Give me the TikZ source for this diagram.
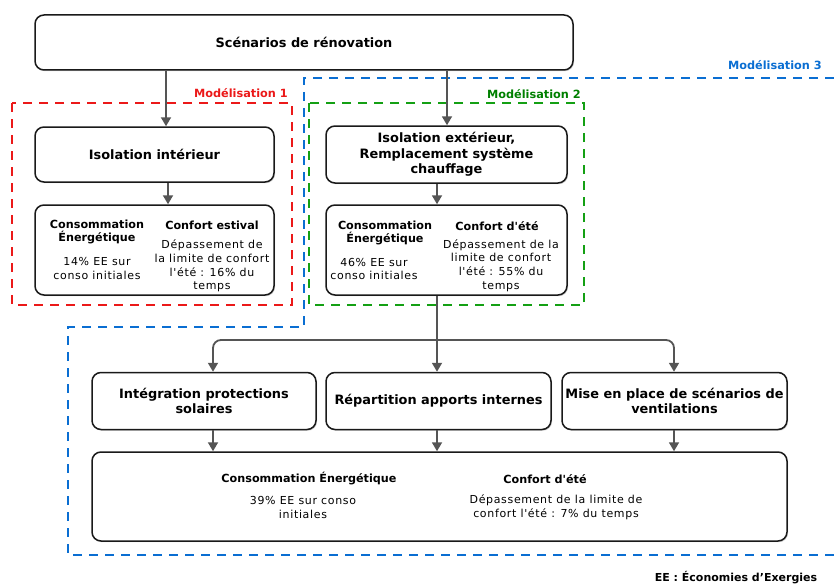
\documentclass[tikz,border=0pt]{standalone}
\usepackage{fontspec}
\setmainfont{DejaVu Sans}[Ligatures=TeXOff]
\newfontfamily\widefont{DejaVu Sans}[LetterSpace=6,Ligatures=TeXOff]
\usetikzlibrary{arrows.meta,shadows}
\definecolor{redf}{RGB}{235,25,25}
\definecolor{greenf}{RGB}{20,160,20}
\definecolor{greenl}{RGB}{0,128,0}
\definecolor{bluef}{RGB}{10,110,210}
\definecolor{arrowc}{RGB}{85,85,85}
\begin{document}
\begin{tikzpicture}[x=1pt,y=-1pt,
  box/.style={draw=black!90, line width=1.5pt, rounded corners=9pt, fill=white, inner sep=0pt, align=center,
    drop shadow={shadow xshift=1pt, shadow yshift=-1.2pt, opacity=0.35},
    font=\bfseries\fontsize{12.9}{15.5}\selectfont},
  arr/.style={draw=arrowc, line width=1.8pt, -{Triangle[length=9pt,width=10pt]}},
  frame/.style={line width=2.6pt, dash pattern=on 9pt off 7pt},
  lbl/.style={font=\bfseries\fontsize{11.3}{13}\selectfont, anchor=east, inner sep=0pt},
  hd/.style={font=\bfseries\fontsize{11.2}{13}\selectfont, align=center, inner sep=0pt},
  bd/.style={font=\widefont\fontsize{11}{13.6}\selectfont, align=center, inner sep=0pt},
  cbd/.style={font=\widefont\fontsize{11}{14}\selectfont, align=center, inner sep=0pt}
]
\useasboundingbox (0,0) rectangle (834,583);

% frames
\draw[frame, draw=redf] (12,103) rectangle (292,305);
\draw[frame, draw=greenf] (309,103) rectangle (584,305);
\draw[frame, draw=bluef] (834,78) -- (304,78) -- (304,327) -- (68,327) -- (68,555) -- (834,555);
\node[lbl, text=redf] (l1) at (288,93) {Modélisation 1};
\node[lbl, text=greenl] (l2) at (581,94) {Modélisation 2};
\node[lbl, text=bluef] (l3) at (822,65) {Modélisation 3};

% boxes
\node[box, minimum width=538pt, minimum height=55pt] (top) at (304,42.5) {Scénarios de rénovation};
\node[box, minimum width=239pt, minimum height=55pt] (isoint) at (154.5,154.5) {Isolation intérieur};
\node[box, minimum width=241pt, minimum height=57pt] (isoext) at (446.5,154.5) {Isolation extérieur,\\Remplacement système\\chauffage};
\node[box, minimum width=239pt, minimum height=90pt] (res1) at (154.5,250) {};
\node[box, minimum width=241pt, minimum height=90pt] (res2) at (446.5,250) {};
\node[box, minimum width=224pt, minimum height=57pt] (b1) at (204,401) {Intégration protections\\solaires};
\node[box, minimum width=225pt, minimum height=57pt] (b2) at (438.5,401) {Répartition apports internes};
\node[box, minimum width=225pt, minimum height=57pt] (b3) at (674.5,401) {Mise en place de scénarios de\\ventilations};
\node[box, minimum width=695pt, minimum height=89pt] (big) at (439.5,496.5) {};

% texts in result boxes
\node[hd] (r1a) at (97,231.5) {Consommation\\Énergétique};
\node[hd] (r1b) at (212,225) {Confort estival};
\node[bd] (r1c) at (97,268.5) {14\% EE sur\\conso initiales};
\node[bd] (r1d) at (212,266) {Dépassement de\\la limite de confort\\l'été : 16\% du\\temps};

\node[hd] (r2a) at (385,232.5) {Consommation\\Énergétique};
\node[hd] (r2b) at (497,226) {Confort d'été};
\node[bd] (r2c) at (374,269) {46\% EE sur\\conso initiales};
\node[bd] (r2d) at (501,265.5) {Dépassement de la\\limite de confort\\l'été : 55\% du\\temps};

\node[hd] (r3a) at (309,479) {Consommation Énergétique};
\node[hd] (r3b) at (545,479) {Confort d'été};
\node[cbd] (r3c) at (303,507) {39\% EE sur conso\\initiales};
\node[cbd] (r3d) at (556,507) {Dépassement de la limite de\\confort l'été : 7\% du temps};

\node[hd, font=\bfseries\fontsize{11}{13}\selectfont] (foot) at (736,578) {EE : Économies d’Exergies};

% connector columns
\coordinate (c166) at (166,0);
\coordinate (c168) at (168,0);
\coordinate (c447) at (447,0);
\coordinate (c437) at (437,0);
\coordinate (c213) at (213,0);
\coordinate (c673) at (674,0);
\coordinate (yb) at (0,340);

\draw[arr] (c166 |- top.south) -- (c166 |- isoint.north);
\draw[arr] (c447 |- top.south) -- (c447 |- isoext.north);
\draw[arr] (c168 |- isoint.south) -- (c168 |- res1.north);
\draw[arr] (c437 |- isoext.south) -- (c437 |- res2.north);
\draw[arr] (c437 |- res2.south) -- (c437 |- b2.north);
\draw[arr, rounded corners=8pt] (c437 |- yb) -| (c213 |- b1.north);
\draw[arr, rounded corners=8pt] (c437 |- yb) -| (c673 |- b3.north);
\draw[arr] (c213 |- b1.south) -- (c213 |- big.north);
\draw[arr] (c437 |- b2.south) -- (c437 |- big.north);
\draw[arr] (c673 |- b3.south) -- (c673 |- big.north);
\end{tikzpicture}
\end{document}
